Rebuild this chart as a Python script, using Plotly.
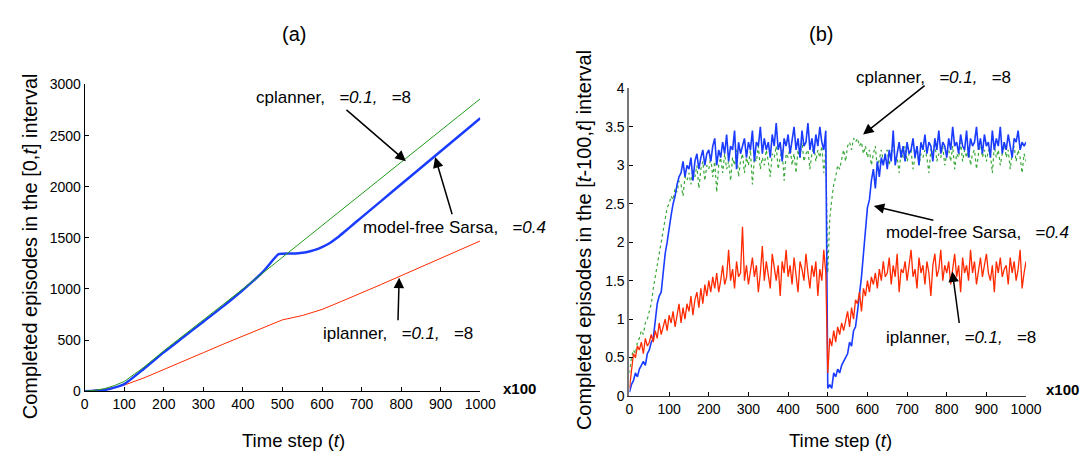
import plotly.graph_objects as go

# ---------------- Panel (a): cumulative completed episodes ----------------
a_x_green = [0, 25, 50, 75, 100, 150, 200, 250, 300, 350, 400, 450, 500, 550, 600, 650, 700, 750, 800, 850, 900, 950, 1000]
a_green = [0, 8, 25, 55, 95, 235, 395, 545, 695, 845, 1000, 1155, 1310, 1465, 1620, 1775, 1930, 2085, 2240, 2395, 2550, 2705, 2860]

a_x_blue = [0, 25, 50, 75, 100, 150, 200, 250, 300, 350, 400, 450, 490, 500, 520, 540, 560, 580, 600, 620, 640, 660, 680, 700, 750, 800, 850, 900, 950, 1000]
a_blue = [0, 4, 12, 35, 70, 220, 380, 530, 680, 830, 990, 1165, 1340, 1345, 1347, 1350, 1360, 1380, 1410, 1450, 1505, 1570, 1635, 1700, 1862, 2024, 2185, 2347, 2508, 2670]

a_x_red = [0, 25, 50, 75, 100, 150, 200, 250, 300, 350, 400, 450, 500, 550, 600, 650, 700, 750, 800, 850, 900, 950, 1000]
a_red = [0, 8, 20, 38, 60, 130, 210, 295, 377, 460, 541, 620, 698, 740, 800, 880, 960, 1045, 1130, 1215, 1300, 1385, 1470]

a_yticks = [0, 500, 1000, 1500, 2000, 2500, 3000]
xticks = [0, 100, 200, 300, 400, 500, 600, 700, 800, 900, 1000]

# ---------------- Panel (b): episodes in [t-100, t] ----------------
b_x = list(range(0, 1001, 5))

b_blue = [
    0.05, 0.15, 0.2, 0.3, 0.25, 0.35, 0.4, 0.45, 0.4, 0.55,
    0.6, 0.7, 0.75, 0.95, 1.2, 1.3, 1.35, 1.6, 1.85, 2.0,
    2.2, 2.35, 2.5, 2.6, 2.75, 2.85, 2.9, 3.05, 2.85, 3.0,
    2.95, 3.1, 2.8, 3.05, 3.15, 2.95, 3.1, 3.2, 3.0, 3.15,
    3.2, 3.05, 3.25, 3.35, 3.0, 3.2, 3.1, 3.3, 3.15, 3.4,
    3.05, 3.25, 3.2, 3.45, 2.95, 3.3, 3.15, 3.25, 3.35, 3.1,
    3.3, 3.2, 3.45, 3.05, 3.3, 3.25, 3.5, 3.15, 3.35, 3.2,
    3.3, 3.1, 3.4, 3.25, 3.55, 3.2, 3.3, 3.05, 3.35, 3.25,
    3.4, 3.15, 3.3, 3.5, 3.2, 3.35, 3.1, 3.45, 3.25, 3.3,
    3.55, 3.2, 3.35, 3.15, 3.4, 3.25, 3.5, 3.3, 3.2, 3.45,
    0.1, 0.15, 0.1, 0.3, 0.25, 0.35, 0.3, 0.4, 0.45, 0.5,
    0.55, 0.7, 0.65, 0.85, 0.9, 1.1, 1.3, 1.55, 1.85, 2.2,
    2.45, 2.55, 2.8, 2.95, 2.7, 3.05, 2.85, 3.1, 3.0, 3.15,
    2.95, 3.2, 3.05, 3.45, 3.0, 3.15, 3.3, 3.1, 3.25, 3.05,
    3.3, 3.15, 3.2, 3.35, 3.1, 3.25, 3.0, 3.3, 3.2, 3.4,
    3.15, 3.3, 3.25, 3.05, 3.35, 3.2, 3.45, 3.15, 3.3, 3.25,
    3.1, 3.35, 3.2, 3.5, 3.25, 3.3, 3.15, 3.4, 3.25, 3.2,
    3.45, 3.1, 3.35, 3.25, 3.3, 3.5, 3.2, 3.35, 3.15, 3.4,
    3.25, 3.3, 3.1, 3.45, 3.2, 3.35, 3.25, 3.5, 3.15, 3.3,
    3.2, 3.4, 3.25, 3.1, 3.35, 3.3, 3.45, 3.2, 3.3, 3.25,
    3.3,
]

b_red = [
    0.1, 0.35, 0.55, 0.5, 0.65, 0.6, 0.7, 0.55, 0.75, 0.65,
    0.7, 0.8, 0.7, 0.85, 0.75, 0.95, 0.8, 0.9, 1.0, 0.85,
    1.05, 0.95, 1.1, 0.9, 1.05, 1.2, 0.95, 1.15, 1.0, 1.2,
    1.1, 1.3, 1.05, 1.25, 1.35, 1.15, 1.4, 1.2, 1.45, 1.3,
    1.5, 1.35, 1.55, 1.4, 1.6, 1.35, 1.5, 1.7, 1.45, 1.55,
    1.9, 1.5, 1.65, 1.4, 1.75, 1.55, 1.6, 2.2, 1.5, 1.7,
    1.45, 1.65, 1.8, 1.55, 1.7, 1.35, 1.6, 1.95, 1.5, 1.75,
    1.6, 1.4, 1.85, 1.65, 1.5, 1.7, 1.3, 1.75, 1.6, 1.9,
    1.55, 1.7, 1.45, 1.8, 1.6, 1.35, 1.75, 1.65, 1.5, 1.85,
    1.6, 1.4, 1.7, 1.55, 1.75, 1.3, 1.65, 1.5, 1.9, 1.6,
    0.3, 0.75, 0.65, 0.85, 0.7, 0.9, 0.8, 0.95, 0.85, 1.0,
    1.1, 0.9, 1.15, 1.0, 1.25, 1.2, 1.35, 1.1, 1.4, 1.3,
    1.5, 1.35, 1.55, 1.45, 1.6, 1.4, 1.65, 1.5, 1.75, 1.55,
    1.6, 1.8, 1.45, 1.7, 1.55, 1.85, 1.35, 1.65, 1.6, 1.75,
    1.5, 1.7, 1.9, 1.55, 1.65, 1.4, 1.8, 1.6, 1.7, 1.45,
    1.75, 1.6, 1.3, 1.7, 1.85, 1.55, 1.65, 1.9, 1.5, 1.7,
    1.6, 1.75, 1.45, 1.65, 1.85, 1.55, 1.7, 1.35, 1.8, 1.6,
    1.7, 1.5, 1.9, 1.6, 1.75, 1.45, 1.65, 1.8, 1.55, 1.7,
    1.85, 1.6, 1.5, 1.7, 1.35, 1.75, 1.6, 1.8, 1.55, 1.65,
    1.7, 1.45, 1.8, 1.6, 1.75, 1.5, 1.65, 1.9, 1.4, 1.6,
    1.75,
]

b_green = [
    0.3, 0.5, 0.6, 0.55, 0.7, 0.75, 0.85, 0.8, 0.95, 1.0,
    1.1, 1.2, 1.4, 1.55, 1.75, 1.9, 2.0, 2.2, 2.35, 2.45,
    2.5, 2.6, 2.55, 2.7, 2.65, 2.8, 2.75, 2.6, 2.85, 2.8,
    2.9, 2.75, 2.95, 2.85, 3.0, 2.7, 2.95, 3.05, 2.8, 3.0,
    2.95, 3.1, 2.85, 3.05, 2.65, 3.0, 3.1, 2.9, 3.15, 2.95,
    3.05, 2.8, 3.1, 3.0, 3.2, 2.85, 3.05, 3.15, 2.9, 3.1,
    3.0, 3.2, 2.75, 3.1, 3.05, 3.25, 2.95, 3.1, 3.0, 3.2,
    3.05, 2.85, 3.15, 3.1, 3.25, 2.95, 3.1, 3.2, 2.8, 3.15,
    3.1, 3.25, 3.0, 3.15, 2.9, 3.2, 3.1, 3.3, 3.05, 3.15,
    3.2, 2.95, 3.15, 3.25, 3.05, 3.2, 3.1, 3.25, 2.9, 3.2,
    1.6, 2.3, 2.55, 2.75, 2.85, 3.0, 2.95, 3.1, 3.2, 3.05,
    3.25, 3.3, 3.2, 3.35, 3.3, 3.35, 3.25, 3.3, 3.15, 3.25,
    3.1, 3.2, 3.0, 3.15, 3.25, 2.95, 3.1, 3.2, 3.05, 3.15,
    3.2, 3.0, 3.15, 3.3, 3.05, 3.1, 2.9, 3.2, 3.1, 3.25,
    3.05, 3.15, 3.2, 2.95, 3.1, 3.25, 3.0, 3.15, 3.1, 3.2,
    3.1, 2.9, 3.2, 3.15, 3.3, 3.05, 3.15, 3.1, 3.25, 3.0,
    3.15, 3.2, 3.05, 3.25, 2.95, 3.15, 3.1, 3.3, 3.05, 3.2,
    3.1, 3.25, 3.0, 3.15, 3.2, 2.95, 3.15, 3.3, 3.1, 3.2,
    3.05, 3.2, 3.15, 2.9, 3.25, 3.1, 3.2, 3.0, 3.15, 3.3,
    3.1, 3.2, 2.95, 3.15, 3.25, 3.05, 3.2, 3.1, 2.9, 3.15,
    3.05,
]

b_yticks = [0, 0.5, 1, 1.5, 2, 2.5, 3, 3.5, 4]

# ---------------- colours / fonts ----------------
GREEN = "#1f9a1f"
GREEN_B = "#3aa83a"
BLUE = "#1a3cff"
RED = "#ff2a00"
FONT = "Liberation Sans, Arial, Helvetica, sans-serif"

W, H = 1091, 452


def px(x):
    return x / W


def py(y):
    return 1 - y / H


fig = go.Figure()

# panel (a)
fig.add_trace(go.Scatter(x=a_x_red, y=a_red, mode="lines", line=dict(color=RED, width=1), xaxis="x", yaxis="y"))
fig.add_trace(go.Scatter(x=a_x_blue, y=a_blue, mode="lines", line=dict(color=BLUE, width=2.5, shape="spline", smoothing=0.6), xaxis="x", yaxis="y"))
fig.add_trace(go.Scatter(x=a_x_green, y=a_green, mode="lines", line=dict(color=GREEN, width=1), xaxis="x", yaxis="y"))

# panel (b)
fig.add_trace(go.Scatter(x=b_x, y=b_green, mode="lines", line=dict(color=GREEN_B, width=1.2, dash="dot"), xaxis="x2", yaxis="y2"))
fig.add_trace(go.Scatter(x=b_x, y=b_blue, mode="lines", line=dict(color=BLUE, width=1.6), xaxis="x2", yaxis="y2"))
fig.add_trace(go.Scatter(x=b_x, y=b_red, mode="lines", line=dict(color=RED, width=1.3), xaxis="x2", yaxis="y2"))

axis_common = dict(
    showgrid=False, zeroline=False, showline=True, linecolor="black", linewidth=1,
    ticks="inside", ticklen=4, tickcolor="black", tickwidth=1,
    tickfont=dict(family=FONT, size=14, color="black"),
)

fig.update_layout(
    width=W, height=H, autosize=False,
    margin=dict(l=0, r=0, t=0, b=0),
    paper_bgcolor="white", plot_bgcolor="white",
    showlegend=False,
    font=dict(family=FONT, color="black"),
    xaxis=dict(domain=[px(74), px(477)], range=[0, 1000], tickvals=xticks, anchor="y", **axis_common),
    yaxis=dict(domain=[py(389), py(71)], range=[0, 3000], tickvals=a_yticks, anchor="x", **axis_common),
    xaxis2=dict(domain=[px(629), px(1033)], range=[0, 1000], tickvals=xticks, anchor="y2", **{**axis_common, "linecolor": "#333"}),
    yaxis2=dict(domain=[py(394), py(75)], range=[0, 4], tickvals=b_yticks, anchor="x2", **{**axis_common, "linecolor": "#777", "linewidth": 2}),
)


def ptext(text, x, y, size, xanchor="center", angle=0):
    return dict(text=text, x=px(x), y=py(y), xref="paper", yref="paper", showarrow=False,
                xanchor=xanchor, yanchor="middle", textangle=angle, font=dict(size=size))


ann = []
# titles
ann.append(ptext("(a)", 287, 19, 20))
ann.append(ptext("(b)", 824, 19, 20))
# axis titles
ann.append(ptext("Time step (<i>t</i>)", 287, 440, 18.5))
ann.append(ptext("Time step (<i>t</i>)", 844, 440, 18.5))
ann.append(ptext("Completed episodes in the [0,<i>t</i>] interval", 18, 239, 20, angle=-90))
ann.append(ptext("Completed episodes in the [<i>t</i>-100,<i>t</i>] interval", 582, 232, 20, angle=-90))
# x100 labels
ann.append(ptext("<b>x100</b>", 517, 386, 15))
ann.append(ptext("<b>x100</b>", 1070, 387, 15))

S = "\u00a0\u00a0\u00a0"
CP = "cplanner," + S + "<i>=0.1,</i>" + S + "=8"
IP = "iplanner," + S + "<i>=0.1,</i>" + S + "=8"
MF = "model-free Sarsa," + S + "<i>=0.4</i>"

# panel (a) labels
ann.append(ptext(CP, 247, 85, 17, xanchor="left"))
ann.append(ptext(MF, 356, 219, 17, xanchor="left"))
ann.append(ptext(IP, 315, 329, 17, xanchor="left"))
# panel (b) labels
ann.append(ptext(CP, 858, 64, 17, xanchor="left"))
ann.append(ptext(MF, 888, 224, 17, xanchor="left"))
ann.append(ptext(IP, 888, 333, 17, xanchor="left"))

arrow = dict(text="", showarrow=True, arrowhead=2, arrowsize=1.4, arrowwidth=1.5, arrowcolor="black")
# panel (a) arrows (head on the curve, tail near its label)
ann.append(dict(x=812, y=2250, ax=658, ay=2764, xref="x", yref="y", axref="x", ayref="y", **arrow))
ann.append(dict(x=886, y=2290, ax=930, ay=1717, xref="x", yref="y", axref="x", ayref="y", **arrow))
ann.append(dict(x=795, y=1110, ax=792, ay=679, xref="x", yref="y", axref="x", ayref="y", **arrow))
# panel (b) arrows
ann.append(dict(x=589, y=3.40, ax=748, ay=4.05, xref="x2", yref="y2", axref="x2", ayref="y2", **arrow))
ann.append(dict(x=616, y=2.47, ax=770, ay=2.28, xref="x2", yref="y2", axref="x2", ayref="y2", **arrow))
ann.append(dict(x=814, y=1.62, ax=832, ay=0.93, xref="x2", yref="y2", axref="x2", ayref="y2", **arrow))

fig.update_layout(annotations=ann)

fig.write_html("out.html")
